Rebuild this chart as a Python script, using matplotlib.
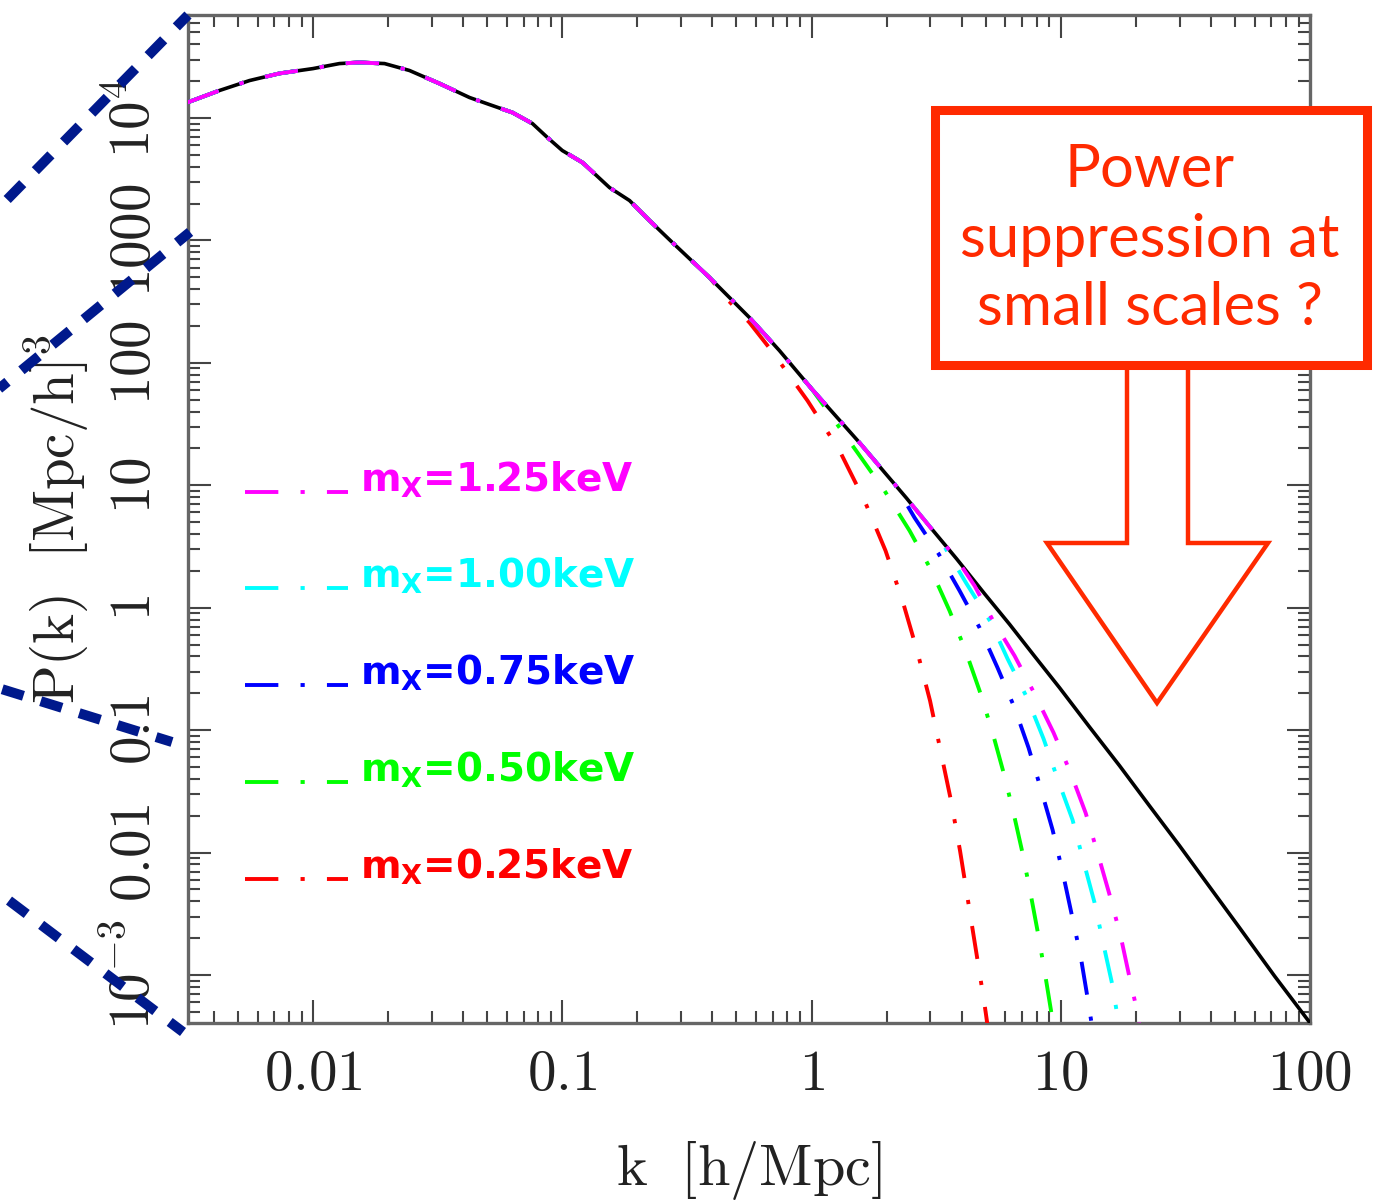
import numpy as np
import matplotlib
matplotlib.use("Agg")
import matplotlib.pyplot as plt
from matplotlib.lines import Line2D
from matplotlib.patches import Rectangle, Polygon
from matplotlib.ticker import FixedLocator, FixedFormatter, LogLocator, NullFormatter

plt.rcParams["mathtext.fontset"] = "cm"
plt.rcParams["lines.scale_dashes"] = False

W, H, DPI = 1381, 1203, 100

# ---------------------------------------------------------------- data
# CDM linear matter power spectrum, k in h/Mpc, P in (Mpc/h)^3
k_cdm = [0.00313, 0.00421, 0.00556, 0.00733, 0.0100, 0.01276, 0.01535, 0.01936,
         0.02438, 0.03216, 0.04246, 0.05105, 0.0631, 0.0759, 0.0872, 0.100,
         0.1206, 0.1547, 0.1862, 0.2239, 0.2767, 0.3898, 0.564, 0.7438, 1.0,
         1.558, 1.963, 2.406, 2.975, 3.818, 4.946, 6.230, 7.851, 9.890, 13.05,
         17.22, 22.72, 29.98, 39.55, 52.19, 72.13, 100.0]
p_cdm = [13370, 16750, 20200, 23100, 25300, 27800, 28400, 27800,
         24400, 19100, 14680, 12860, 11070, 9000, 6920, 5420,
         4320, 2700, 2115, 1452, 960, 497, 234, 125.8, 61.5,
         22.28, 12.75, 7.845, 4.624, 2.513, 1.301, 0.7328, 0.4017, 0.2220, 0.1060,
         0.05119, 0.02403, 0.01136, 0.005254, 0.002430, 0.0009795, 0.000407]

# warm dark matter spectra: identical to CDM up to k_join, then the suppressed tail
masses = ["1.25", "1.00", "0.75", "0.50", "0.25"]
colors = ["#ff00ff", "#00ffff", "#0000ff", "#00ff00", "#ff0000"]
k_join = [3.82, 2.406, 1.559, 1.0, 0.39]

k_tail_125 = [4.51, 5.325, 6.525, 7.851, 9.357, 10.95, 12.58, 14.05, 15.70, 17.38, 18.89, 20.33, 20.90]
p_tail_125 = [1.512, 0.798, 0.4053, 0.1983, 0.0953, 0.04487, 0.02114, 0.009963, 0.00452,
              0.002091, 0.0009486, 0.0004911, 0.0003187]

k_tail_100 = [3.26, 4.188, 5.227, 6.116, 7.357, 8.531, 9.710, 11.15, 12.35, 13.67, 14.85, 16.14, 17.38]
p_tail_100 = [3.70, 1.571, 0.7685, 0.3831, 0.1805, 0.08506, 0.04008, 0.01853, 0.00841,
              0.00389, 0.001765, 0.000816, 0.0003187]

k_tail_075 = [2.153, 2.591, 3.233, 3.926, 4.723, 5.577, 6.525, 7.427, 8.296, 9.271, 10.17,
              11.05, 12.01, 12.81, 13.54]
p_tail_075 = [10.30, 5.436, 2.762, 1.377, 0.6865, 0.3234, 0.1524, 0.07182, 0.03384, 0.01536,
              0.006966, 0.003162, 0.001435, 0.0006512, 0.0003187]

k_tail_050 = [1.530, 1.963, 2.474, 3.030, 3.579, 4.150, 4.723, 5.301, 5.868, 6.436, 6.993,
              7.530, 8.069, 8.610, 9.143, 9.487]
p_tail_050 = [18.46, 9.03, 4.257, 2.006, 0.9451, 0.4454, 0.2099, 0.09888, 0.04659, 0.02196,
              0.01034, 0.004874, 0.002297, 0.001082, 0.0005099, 0.0003187]

k_tail_025 = [0.456, 0.564, 0.691, 0.9636, 1.2956, 1.6318, 1.9816, 2.318, 2.652, 2.989, 3.294,
              3.629, 3.944, 4.246, 4.572, 4.922, 5.157]
p_tail_025 = [335, 213, 125.8, 49.1, 19.17, 7.483, 2.922, 1.141, 0.4454, 0.1739, 0.06788,
              0.0265, 0.01034, 0.004038, 0.001576, 0.000615, 0.000319]

k_tails = [k_tail_125, k_tail_100, k_tail_075, k_tail_050, k_tail_025]
p_tails = [p_tail_125, p_tail_100, p_tail_075, p_tail_050, p_tail_025]

xtick_vals = [0.01, 0.1, 1, 10, 100]
xtick_labels = ["0.01", "0.1", "1", "10", "100"]
ytick_vals = [1e-3, 1e-2, 1e-1, 1, 10, 100, 1000, 1e4]
ytick_labels = [r"10^{-3}", "0.01", "0.1", "1", "10", "100", "1000", r"10^{4}"]


def wdm_curve(kj, kt, pt):
    kc = np.asarray(k_cdm)
    pc = np.asarray(p_cdm)
    keep = kc <= kj
    return np.concatenate([kc[keep], kt]), np.concatenate([pc[keep], pt])


def fx(x):
    return x / W


def fy(y):
    return 1 - y / H


# ---------------------------------------------------------------- figure
fig = plt.figure(figsize=(W / DPI, H / DPI), dpi=DPI)
ax = fig.add_axes([fx(188), fy(1023), (1310 - 188) / W, (1023 - 15) / H])
ax.set_xscale("log")
ax.set_yscale("log")
ax.set_xlim(0.00315, 100)
ax.set_ylim(4.06e-4, 6.93e4)

dashdot = (0, (24, 16, 3, 16))

ax.plot(k_cdm, p_cdm, color="black", lw=2.6, zorder=3, solid_capstyle="butt",
        solid_joinstyle="round")

# draw heaviest suppression first so the lightest mass sits on top
for i in range(len(masses) - 1, -1, -1):
    kk, pp = wdm_curve(k_join[i], k_tails[i], p_tails[i])
    ax.plot(kk, pp, color=colors[i], lw=2.8, ls=dashdot, zorder=4 + (len(masses) - i),
            dash_capstyle="butt")

# hand-drawn style legend
rows_y = [0.5268, 0.4315, 0.3353, 0.2391, 0.1429]
for m, c, yy in zip(masses, colors, rows_y):
    ax.plot([0.0508, 0.1426], [yy, yy], transform=ax.transAxes, color=c, lw=2.8,
            ls=dashdot, dash_capstyle="butt", clip_on=False, zorder=10)
    ax.text(0.1533, yy, r"$\mathbf{m_X}$=" + m + "keV", transform=ax.transAxes,
            color=c, fontsize=28, fontweight="bold", family="DejaVu Sans",
            math_fontfamily="dejavusans", ha="left", va="baseline", zorder=10)

# axes styling
for sp in ax.spines.values():
    sp.set_color("#666666")
    sp.set_linewidth(2.4)

ax.xaxis.set_major_locator(FixedLocator(xtick_vals))
ax.xaxis.set_major_formatter(FixedFormatter([r"$\mathrm{%s}$" % s for s in xtick_labels]))
ax.yaxis.set_major_locator(FixedLocator(ytick_vals))
ax.yaxis.set_major_formatter(FixedFormatter([r"$\mathrm{%s}$" % s for s in ytick_labels]))
for axis in (ax.xaxis, ax.yaxis):
    axis.set_minor_locator(LogLocator(base=10, subs=np.arange(2, 10), numticks=30))
    axis.set_minor_formatter(NullFormatter())

ax.tick_params(which="both", direction="in", top=True, right=True, color="#444444",
               width=1.5)
ax.tick_params(which="major", length=16.5)
ax.tick_params(which="minor", length=8.6)
ax.tick_params(axis="x", which="major", labelsize=41, pad=17, labelcolor="#222222")
ax.tick_params(axis="y", which="major", labelsize=41, pad=19, labelrotation=90,
               labelcolor="#222222")
for lab in ax.get_yticklabels():
    lab.set_va("center")

ax.set_xlabel(r"$\mathrm{k\ \ [h/Mpc]}$", fontsize=42, color="#222222")
ax.set_ylabel(r"$\mathrm{P(k)\ \ [Mpc/h]^{3}}$", fontsize=41, color="#222222")
ax.xaxis.set_label_coords(0.5, -0.115)
ax.yaxis.set_label_coords(-0.087, 0.5)

# navy dashed guide lines on the left
navy = "#00198c"
guides = [((188, 15), (-10, 217)),
          ((190, 232), (-5, 392)),
          ((172, 742), (-5, 687)),
          ((183, 1032), (-5, 890))]
for (x0, y0), (x1, y1) in guides:
    fig.add_artist(Line2D([fx(x0), fx(x1)], [fy(y0), fy(y1)], transform=fig.transFigure,
                          color=navy, lw=7.2, ls=(4, (16, 13)), dash_capstyle="butt",
                          zorder=20))

# annotation box and hollow arrow
red = "#ff2a00"
box = Rectangle((fx(935), fy(365)), (1367 - 935) / W, (365 - 110) / H,
                transform=fig.transFigure, facecolor="white", edgecolor=red, lw=6.5,
                joinstyle="miter", zorder=21)
fig.add_artist(box)

arrow_px = [(1127, 365), (1127, 543), (1047, 543), (1157, 703), (1268, 543), (1188, 543),
            (1188, 365)]
arrow = Polygon([(fx(x), fy(y)) for x, y in arrow_px], closed=False, fill=False,
                transform=fig.transFigure, edgecolor=red, lw=3.2, joinstyle="miter",
                zorder=20)
fig.add_artist(arrow)

for txt, yy in [("Power", 170), ("suppression at", 240), ("small scales ?", 308)]:
    fig.text(fx(1150), fy(yy), txt, color=red, fontsize=43, family="Lato",
             fontweight="normal", ha="center", va="center", zorder=22)

fig.savefig("out.png", dpi=DPI)
